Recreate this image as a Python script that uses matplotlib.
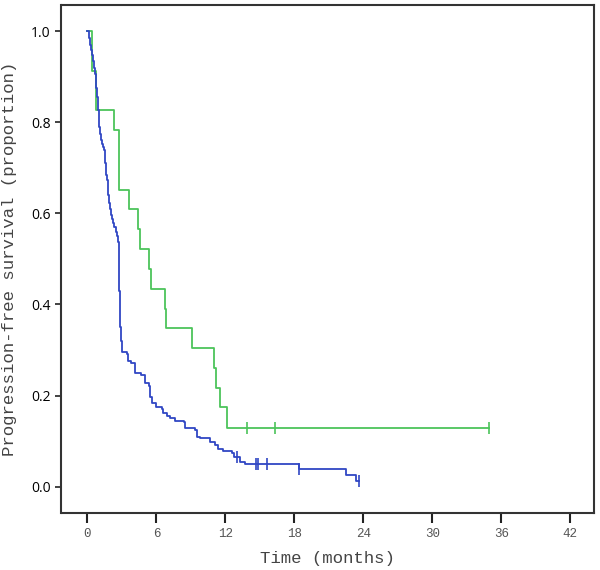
import numpy as np
import matplotlib
matplotlib.use('Agg')
import matplotlib.pyplot as plt

# Kaplan-Meier step points (time in months, survival proportion)
blue_t = [0, 0.14, 0.22, 0.3, 0.4, 0.49, 0.57, 0.65, 0.72, 0.78, 0.84, 0.88, 0.92, 0.97,
          1.02, 1.07, 1.22, 1.3, 1.38, 1.45, 1.5, 1.55, 1.6, 1.65, 1.71, 1.76, 1.8, 1.85,
          1.92, 2.03, 2.13, 2.23, 2.35, 2.46, 2.56, 2.67, 2.71, 2.75, 2.77, 2.78, 2.79,
          2.82, 2.87, 2.94, 3.01, 3.48, 3.53, 3.83, 4.12, 4.7, 4.99, 5.36, 5.48, 5.65,
          6.0, 6.5, 6.58, 6.93, 7.16, 7.6, 8.38, 8.47, 9.34, 9.49, 9.77, 10.64, 11.08,
          11.37, 11.8, 12.6, 12.73, 13.26, 13.69, 18.42, 22.48, 23.4, 23.6]
blue_s = [1.0, 0.985, 0.97, 0.958, 0.948, 0.935, 0.92, 0.905, 0.89, 0.875, 0.855, 0.84,
          0.826, 0.81, 0.79, 0.775, 0.76, 0.752, 0.745, 0.739, 0.725, 0.71, 0.695, 0.685,
          0.673, 0.655, 0.64, 0.622, 0.61, 0.596, 0.587, 0.578, 0.57, 0.56, 0.55, 0.538,
          0.525, 0.512, 0.47, 0.43, 0.40, 0.375, 0.351, 0.32, 0.296, 0.292, 0.276, 0.271,
          0.249, 0.245, 0.227, 0.222, 0.197, 0.183, 0.174, 0.170, 0.161, 0.155, 0.150,
          0.145, 0.141, 0.128, 0.124, 0.110, 0.106, 0.099, 0.092, 0.083, 0.079, 0.074,
          0.066, 0.055, 0.050, 0.039, 0.026, 0.013, 0.013]
blue_cens_t = [13.05, 14.65, 14.82, 15.58, 18.42, 23.6]
blue_cens_s = [0.066, 0.050, 0.050, 0.050, 0.039, 0.013]

green_t = [0, 0.37, 0.72, 2.3, 2.75, 3.62, 4.38, 4.58, 5.31, 5.57, 6.75, 6.84, 9.08,
           11.0, 11.17, 11.54, 12.18, 34.9]
green_s = [1.0, 0.913, 0.826, 0.783, 0.652, 0.609, 0.565, 0.522, 0.478, 0.435, 0.391,
           0.348, 0.304, 0.261, 0.217, 0.174, 0.130, 0.130]
green_cens_t = [13.9, 16.3, 34.9]
green_cens_s = [0.130, 0.130, 0.130]

xticks = [0, 6, 12, 18, 24, 30, 36, 42]
yticks = [0.0, 0.2, 0.4, 0.6, 0.8, 1.0]

BLUE = '#3047c4'
GREEN = '#4cc45a'
mono = 'Liberation Mono'


def main():
    fig = plt.figure(figsize=(6, 5.7), dpi=100)
    ax = fig.add_axes([0.1025, 0.1005, 0.8875, 0.8905])

    ax.step(green_t, green_s, where='post', color=GREEN, lw=1.3)
    ax.step(blue_t, blue_s, where='post', color=BLUE, lw=1.3)
    ax.plot(green_cens_t, green_cens_s, ls='none', marker='|', ms=8, mew=1.2, color=GREEN)
    ax.plot(blue_cens_t, blue_cens_s, ls='none', marker='|', ms=8, mew=1.2, color=BLUE)

    ax.set_xlim(-2.26, 44.07)
    ax.set_ylim(-0.057, 1.057)
    ax.set_xticks(xticks)
    ax.set_yticks(yticks)
    ax.set_xticklabels([str(v) for v in xticks], family=mono, fontsize=9, color='#555555')
    ax.set_yticklabels(['%.1f' % v for v in yticks], family='Open Sans', fontsize=10,
                       color='black')
    ax.tick_params(axis='x', direction='out', length=7, width=1.5, color='#222222', pad=4)
    ax.tick_params(axis='y', direction='out', length=4, width=1.2, color='#222222', pad=4)
    for sp in ax.spines.values():
        sp.set_color('#333333')
        sp.set_linewidth(1.5)

    ax.set_xlabel('Time (months)', family=mono, fontsize=12.5, color='#444444', labelpad=8)
    ax.set_ylabel('Progression-free survival (proportion)', family=mono, fontsize=12.5,
                  color='#444444', labelpad=10)

    fig.savefig('out.png', dpi=100)


if __name__ == '__main__':
    main()
